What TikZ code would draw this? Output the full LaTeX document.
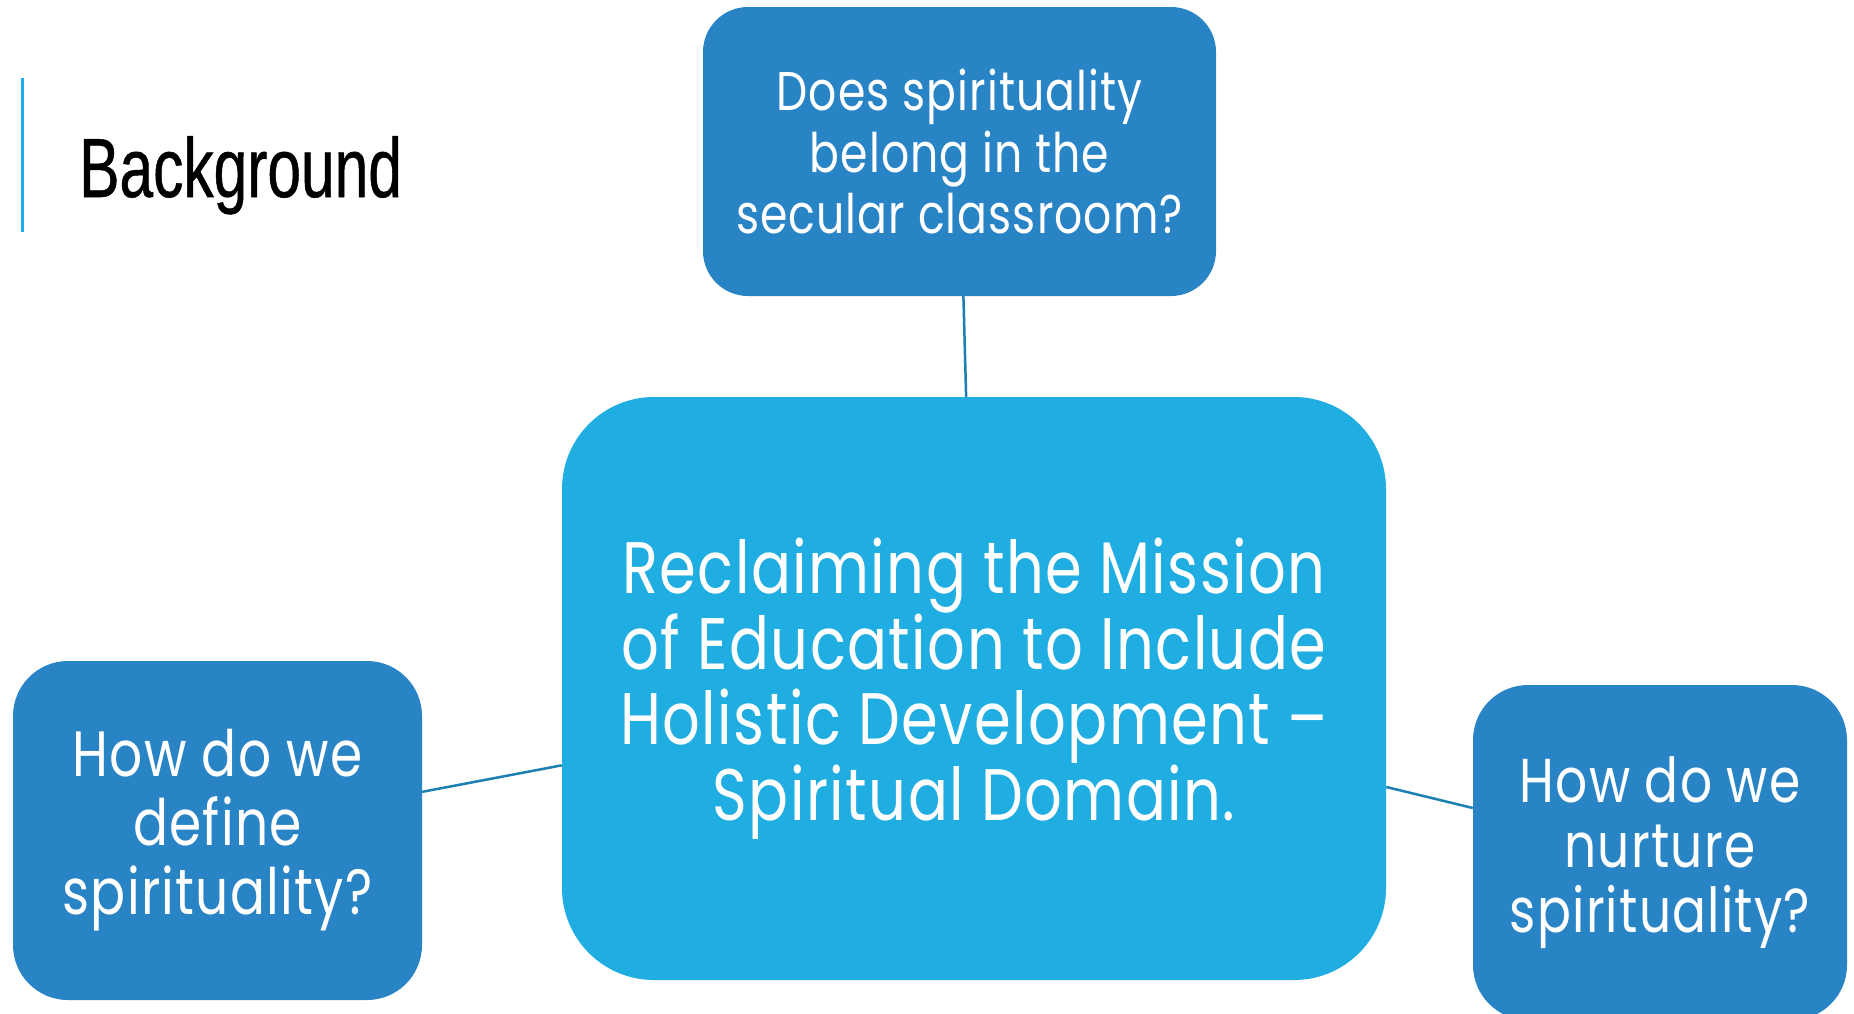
\documentclass[tikz,border=0pt]{standalone}
\usepackage{fontspec}
\usepackage{xcolor}
\setmainfont{Poppins}[FakeStretch=0.81,LetterSpace=2]
\newfontfamily\titlefont{Liberation Sans}[FakeStretch=0.72,FakeBold=0.6]
\definecolor{boxblue}{HTML}{2984C6}
\definecolor{coreblue}{HTML}{1FADE2}
\definecolor{linkblue}{HTML}{1B7FB3}
\definecolor{barblue}{HTML}{1DAEEA}

\begin{document}
\begin{tikzpicture}[x=1pt,y=-1pt,
  question/.style={fill=boxblue,rounded corners=55pt,text=white,align=center,inner sep=0pt},
  link/.style={linkblue,line width=2.5pt}]
\useasboundingbox (0,0) rectangle (1854,1013);
\fill[white] (0,0) rectangle (1854,1013);
\draw[barblue,line width=3pt] (22,78) -- (22,232);
\node[anchor=base west,inner sep=0pt,font=\titlefont\fontsize{84}{84}\selectfont] (title) at (79,197) {Background};
\node[question,rounded corners=45pt,minimum width=513pt,minimum height=289pt,
  font=\fontsize{54.5}{61.5}\selectfont] (belong) at (959.5,151.5) {Does spirituality\\belong in the\\secular classroom?};
\node[question,fill=coreblue,rounded corners=92pt,minimum width=824pt,minimum height=583pt,
  font=\fontsize{73}{75.5}\selectfont] (mission) at (974,688.5) {Reclaiming the Mission\\of Education to Include\\Holistic Development --\\Spiritual Domain.};
\node[question,minimum width=409pt,minimum height=339pt,
  font=\fontsize{64}{69}\selectfont] (define) at (217.5,830.5) {How do we\\define\\spirituality?};
\node[question,minimum width=374pt,minimum height=335pt,
  font=\fontsize{62}{65}\selectfont] (nurture) at (1660,852.5) {How do we\\nurture\\spirituality?};
\draw[link] (belong) -- (mission);
\draw[link] (define) -- (mission);
\draw[link] (mission) -- (nurture);
\end{tikzpicture}
\end{document}
